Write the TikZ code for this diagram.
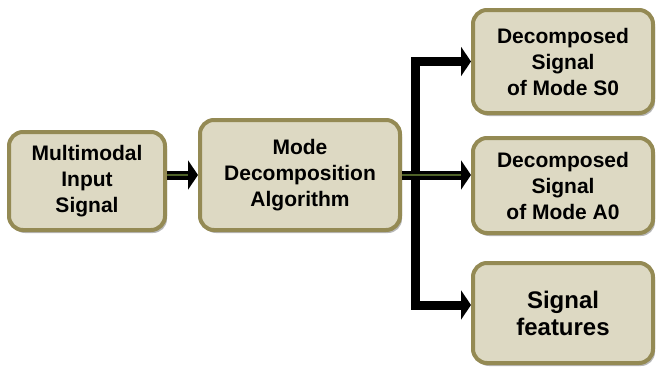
\documentclass[tikz,border=0pt]{standalone}
\usepackage{fontspec}
\setmainfont{Liberation Sans}
\usetikzlibrary{arrows.meta,shadows}
\definecolor{boxfill}{RGB}{221,217,195}
\definecolor{boxline}{RGB}{148,138,84}
\definecolor{shaftline}{RGB}{79,98,40}
\begin{document}
\begin{tikzpicture}[x=1pt,y=1pt,
  blockbox/.style={draw=boxline,fill=boxfill,line width=4pt,rounded corners=14pt,inner sep=0pt,align=center,
    font=\bfseries\fontsize{21}{26}\selectfont,
    drop shadow={shadow xshift=2pt,shadow yshift=-3pt,fill=black!40,opacity=.7}},
  flow/.style={line width=9pt,-{Triangle[length=10pt,width=29pt]}},
  coreline/.style={draw=shaftline,line width=1.2pt}]
\useasboundingbox (0,0) rectangle (658,368);
% blocks
\node[blockbox,minimum width=156pt,minimum height=98pt] (input) at (87,187) {Multimodal\\Input\\Signal};
\node[blockbox,minimum width=200pt,minimum height=110pt] (mda) at (300,193) {Mode\\Decomposition\\Algorithm};
\foreach \kname/\ky/\kh/\ktext in {modeS/306.5/103/{Decomposed\\Signal\\of Mode S0},modeA/182.5/95/{Decomposed\\Signal\\of Mode A0}}{
  \node[blockbox,minimum width=180pt,minimum height=\kh pt] (\kname) at (563,\ky) {\ktext};}
\node[blockbox,minimum width=180pt,minimum height=100pt,font=\bfseries\fontsize{24}{27}\selectfont] (feat) at (563,55) {Signal\\features};
% branches
\coordinate (split) at (415,193);
\draw[flow] (split) |- (modeS.west);
\draw[flow] (split) |- ([yshift=8pt]feat.west);
% main path
\draw[flow] (input.east |- mda.west) -- (mda.west);
\draw[coreline] (input.east |- mda.west) -- ([xshift=-10pt]mda.west);
\draw[flow] (mda.east) -- (mda.east -| modeA.west);
\draw[coreline] (mda.east) -- ([xshift=-10pt]mda.east -| modeA.west);
\end{tikzpicture}
\end{document}
